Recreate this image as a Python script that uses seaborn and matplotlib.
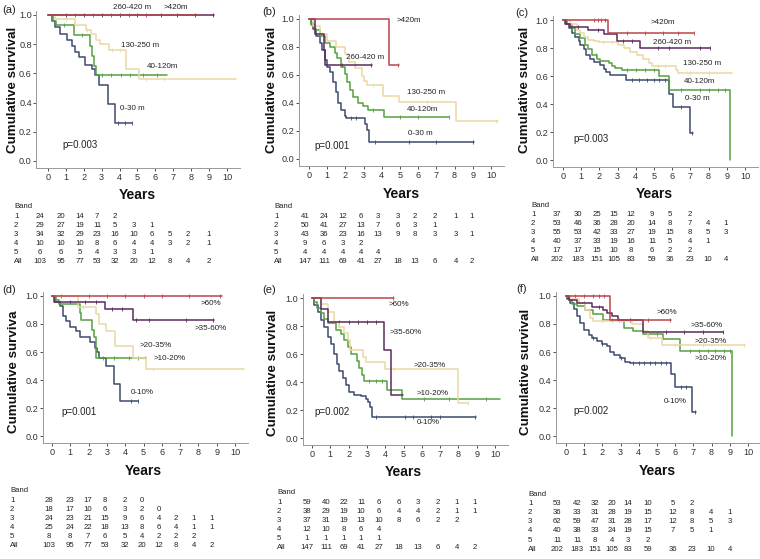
import matplotlib
matplotlib.use("Agg")
import matplotlib.pyplot as plt
import seaborn as sns
import numpy as np

sns.set_style("white")
plt.rcParams['font.family'] = ['Liberation Sans', 'DejaVu Sans']

# ---------------- colours per group (rank 1..5) ----------------
COLORS = ["#3d4a6e", "#55a040", "#ead9a6", "#5b2a5c", "#b8454a"]

# ---------------- panel (a): depth bands ----------------
a_g1_t = [0, 0.22, 0.41, 0.69, 1.06, 1.34, 1.53, 1.71, 2.08, 2.46, 2.6, 2.83, 3.33, 3.76, 4.69]
a_g1_s = [1, 0.96, 0.92, 0.87, 0.83, 0.79, 0.75, 0.71, 0.66, 0.63, 0.59, 0.52, 0.39, 0.26, 0.26]
a_g2_t = [0, 0.28, 0.47, 1.43, 2.35, 2.45, 2.55, 2.7, 6.65]
a_g2_s = [1, 0.96, 0.93, 0.86, 0.79, 0.72, 0.65, 0.59, 0.59]
a_g3_t = [0, 0.41, 1.53, 2.1, 2.4, 2.7, 2.9, 3.4, 4.37, 5.07, 10.5]
a_g3_s = [1, 0.97, 0.93, 0.90, 0.87, 0.83, 0.80, 0.76, 0.63, 0.56, 0.56]
a_g4_t = [0, 9.25]
a_g4_s = [1, 1]
a_g5_t = [0, 8.4]
a_g5_s = [1, 1]

# ---------------- panel (b) ----------------
b_g1_t = [0, 0.1, 0.22, 0.4, 0.59, 0.74, 0.86, 1.0, 1.14, 1.32, 1.47, 1.6, 1.78, 1.97, 2.06, 3.07, 3.16, 3.29, 9.04]
b_g1_s = [1, 0.97, 0.93, 0.88, 0.83, 0.78, 0.71, 0.66, 0.62, 0.55, 0.48, 0.40, 0.35, 0.31, 0.29, 0.25, 0.21, 0.12, 0.12]
b_g2_t = [0, 0.13, 0.31, 0.6, 0.86, 1.14, 1.42, 1.54, 1.78, 1.97, 2.1, 2.24, 2.43, 2.7, 2.98, 3.25, 4.12, 7.7]
b_g2_s = [1, 0.96, 0.92, 0.88, 0.83, 0.80, 0.76, 0.72, 0.66, 0.61, 0.55, 0.49, 0.44, 0.40, 0.38, 0.35, 0.30, 0.30]
b_g3_t = [0, 0.22, 0.59, 1.0, 1.5, 2.0, 2.2, 2.5, 2.9, 3.0, 3.2, 4.04, 4.96, 8.09, 10.37]
b_g3_s = [1, 0.95, 0.89, 0.84, 0.80, 0.75, 0.69, 0.65, 0.59, 0.56, 0.53, 0.45, 0.41, 0.27, 0.27]
b_g4_t = [0, 0.35, 0.81, 0.9, 3.44]
b_g4_s = [1, 0.89, 0.78, 0.67, 0.67]
b_g5_t = [0, 4.41, 4.96]
b_g5_s = [1, 0.67, 0.67]

# ---------------- panel (c) ----------------
c_g1_t = [0, 0.13, 0.31, 0.49, 0.68, 0.86, 0.95, 1.13, 1.28, 1.46, 1.68, 2.05, 2.23, 2.38, 2.6, 3.47, 5.83, 6.03, 6.98, 7.13]
c_g1_s = [1, 0.97, 0.94, 0.91, 0.88, 0.85, 0.82, 0.79, 0.75, 0.72, 0.70, 0.68, 0.65, 0.63, 0.61, 0.57, 0.47, 0.38, 0.19, 0.19]
c_g2_t = [0, 0.22, 0.49, 0.68, 0.95, 1.22, 1.4, 1.59, 1.86, 2.05, 2.5, 2.69, 2.87, 3.24, 5.3, 5.85, 9.18]
c_g2_s = [1, 0.97, 0.94, 0.90, 0.87, 0.82, 0.79, 0.75, 0.72, 0.71, 0.69, 0.67, 0.66, 0.64, 0.60, 0.50, 0.0]
c_g3_t = [0, 0.4, 0.77, 0.95, 1.13, 1.4, 1.68, 1.96, 3.0, 3.33, 3.69, 4.06, 4.42, 4.7, 4.88, 6.22, 6.3, 9.3]
c_g3_s = [1, 0.97, 0.93, 0.91, 0.88, 0.86, 0.85, 0.84, 0.82, 0.80, 0.77, 0.75, 0.72, 0.69, 0.67, 0.64, 0.62, 0.62]
c_g4_t = [0, 0.18, 0.4, 1.4, 2.23, 2.96, 4.24, 8.08]
c_g4_s = [1, 0.97, 0.95, 0.93, 0.90, 0.85, 0.80, 0.80]
c_g5_t = [0, 2.45, 7.22]
c_g5_s = [1, 0.91, 0.91]

# ---------------- panel (d): percentage bands ----------------
d_g1_t = [0, 0.15, 0.42, 0.6, 0.78, 1.0, 1.3, 1.51, 2.06, 2.34, 2.46, 2.57, 2.94, 3.38, 3.74, 4.71]
d_g1_s = [1, 0.96, 0.93, 0.86, 0.82, 0.78, 0.75, 0.71, 0.67, 0.63, 0.60, 0.56, 0.50, 0.37, 0.25, 0.25]
d_g2_t = [0, 0.2, 0.38, 1.51, 1.6, 2.2, 2.3, 2.43, 5.16]
d_g2_s = [1, 0.97, 0.94, 0.88, 0.83, 0.76, 0.71, 0.56, 0.56]
d_g3_t = [0, 1.4, 2.43, 2.57, 2.97, 3.43, 4.4, 5.16, 10.5]
d_g3_s = [1, 0.92, 0.87, 0.80, 0.75, 0.64, 0.56, 0.48, 0.48]
d_g4_t = [0, 0.11, 2.88, 4.4, 8.87]
d_g4_s = [1, 0.96, 0.91, 0.83, 0.83]
d_g5_t = [0, 9.27]
d_g5_s = [1, 1]

# ---------------- panel (e) ----------------
e_g1_t = [0, 0.13, 0.31, 0.49, 0.67, 0.85, 1.03, 1.21, 1.36, 1.49, 1.67, 1.85, 2.03, 2.3, 2.66, 2.93, 3.06, 3.17, 3.3, 8.97]
e_g1_s = [1, 0.95, 0.90, 0.84, 0.79, 0.72, 0.67, 0.60, 0.53, 0.48, 0.43, 0.38, 0.33, 0.31, 0.30, 0.28, 0.26, 0.22, 0.15, 0.15]
e_g2_t = [0, 0.13, 0.27, 0.49, 0.67, 0.89, 1.3, 1.58, 1.76, 1.94, 2.12, 2.45, 2.57, 2.75, 2.84, 4.11, 4.93, 10.27]
e_g2_s = [1, 0.97, 0.93, 0.89, 0.85, 0.82, 0.77, 0.74, 0.70, 0.65, 0.60, 0.55, 0.50, 0.45, 0.41, 0.34, 0.28, 0.28]
e_g3_t = [0, 0.49, 0.85, 1.21, 1.49, 1.76, 1.94, 2.08, 2.81, 2.93, 3.97, 8.0, 8.55]
e_g3_s = [1, 0.96, 0.90, 0.83, 0.79, 0.75, 0.70, 0.63, 0.58, 0.54, 0.49, 0.25, 0.25]
e_g4_t = [0, 0.49, 0.89, 3.93, 4.29, 4.96]
e_g4_s = [1, 0.92, 0.83, 0.63, 0.31, 0.31]
e_g5_t = [0, 4.47]
e_g5_s = [1, 1]

# ---------------- panel (f) ----------------
f_g1_t = [0, 0.05, 0.24, 0.42, 0.6, 0.78, 1.0, 1.24, 1.42, 1.7, 1.97, 2.24, 2.43, 2.61, 2.97, 3.25, 3.49, 5.75, 5.99, 6.95, 7.17]
f_g1_s = [1, 0.98, 0.95, 0.91, 0.86, 0.81, 0.76, 0.72, 0.70, 0.68, 0.66, 0.64, 0.60, 0.58, 0.56, 0.53, 0.52, 0.44, 0.35, 0.17, 0.17]
f_g2_t = [0, 0.15, 0.33, 0.6, 1.06, 1.51, 2.06, 3.19, 3.7, 4.25, 5.35, 6.26, 9.14]
f_g2_s = [1, 0.97, 0.94, 0.93, 0.90, 0.87, 0.83, 0.77, 0.75, 0.73, 0.69, 0.61, 0.0]
f_g3_t = [0, 0.24, 0.69, 1.06, 1.3, 1.51, 3.61, 4.25, 4.53, 5.26, 9.82]
f_g3_s = [1, 0.98, 0.95, 0.90, 0.84, 0.82, 0.80, 0.75, 0.70, 0.65, 0.65]
f_g4_t = [0, 0.15, 0.6, 1.42, 2.02, 2.24, 2.52, 2.88, 4.22, 8.63]
f_g4_s = [1, 0.97, 0.95, 0.92, 0.90, 0.88, 0.86, 0.83, 0.74, 0.74]
f_g5_t = [0, 2.43, 5.75]
f_g5_s = [1, 0.83, 0.83]

# ---------------- censor times (years) ----------------
a_cens = [[3.9, 4.3, 4.69], [0.9, 1.9, 3.0, 3.5, 4.1, 4.6, 5.3, 6.1], [1.0, 2.2, 3.6, 4.0, 5.5, 6.5],
          [1.0, 2.0, 3.0, 4.0, 5.0, 6.3, 7.2, 8.2, 9.2], [1.5, 2.5, 3.5, 4.5, 5.5]]
b_cens = [[2.3, 2.6, 3.6, 5.5, 7.0, 9.0], [3.5, 5.0, 6.0, 7.7], [3.5, 6.5, 10.3], [1.8, 2.5, 3.4], [4.9]]
c_cens = [[3.8, 4.2, 4.6, 5.0, 5.3, 5.6, 6.5, 7.1], [1.8, 3.5, 4.0, 4.5, 5.0, 6.5, 7.5, 8.0, 8.5, 8.9],
          [2.2, 2.7, 5.2, 5.6, 7.0, 8.0], [0.8, 1.9, 3.3, 3.8, 5.2, 5.8, 7.5, 8.05],
          [1.7, 1.9, 2.1, 2.3, 3.5, 4.5, 5.5, 6.3, 7.2]]
d_cens = [[4.3, 4.7], [2.8, 3.4, 4.2, 4.7, 5.1], [1.7, 5.5], [1.0, 1.8, 2.4, 3.3, 3.8, 4.6, 5.3, 7.3, 8.8],
          [0.5, 2.0, 3.0, 4.0, 5.0, 6.0, 7.5, 9.2]]
e_cens = [[3.5, 5.1, 5.5, 6.5, 7.0, 8.9], [3.1, 3.5, 3.8, 6.1, 7.5, 9.5], [4.5, 8.5],
          [1.5, 2.0, 2.5, 3.0, 3.5], [4.4]]
f_cens = [[1.5, 2.0, 3.0, 3.7, 4.0, 4.3, 4.6, 4.9, 5.2, 5.5, 6.3, 6.6, 7.1],
          [2.5, 2.9, 4.5, 5.0, 6.8, 7.3, 7.8, 8.2, 8.7, 9.0], [2.0, 3.0, 4.6, 6.0, 7.5, 9.8],
          [1.0, 1.8, 3.5, 5.5, 6.5, 7.5, 8.6], [0.5, 1.0, 1.5, 1.8, 2.1, 3.5, 4.5, 5.7]]

# ---------------- curve labels (text, x, y) ----------------
a_labels = [("260-420 m", 3.61, 1.05), (">420m", 6.46, 1.05), ("130-250 m", 4.08, 0.79),
            ("40-120m", 5.53, 0.645), ("0-30 m", 4.04, 0.36)]
b_labels = [(">420m", 4.82, 0.99), ("260-420 m", 2.06, 0.726), ("130-250 m", 5.37, 0.476),
            ("40-120m", 5.37, 0.35), ("0-30 m", 5.46, 0.18)]
c_labels = [(">420m", 4.84, 0.98), ("260-420 m", 4.94, 0.84), ("130-250 m", 6.58, 0.69),
            ("40-120m", 6.62, 0.56), ("0-30 m", 6.71, 0.436)]
d_labels = [(">60%", 8.12, 0.945), (">35-60%", 7.77, 0.77), (">20-35%", 4.8, 0.646),
            (">10-20%", 5.57, 0.55), ("0-10%", 4.31, 0.31)]
e_labels = [(">60%", 4.2, 0.95), (">35-60%", 4.26, 0.757), (">20-35%", 5.53, 0.519),
            (">10-20%", 5.71, 0.321), ("0-10%", 5.74, 0.11)]
f_labels = [(">60%", 4.98, 0.88), (">35-60%", 6.84, 0.786), (">20-35%", 7.08, 0.676),
            (">10-20%", 7.08, 0.552), ("0-10%", 5.38, 0.248)]

p_values = ["p=0.003", "p=0.001", "p=0.003", "p=0.001", "p=0.002", "p=0.002"]
p_pos = [(0.78, 0.107), (0.31, 0.095), (0.55, 0.148), (0.51, 0.172), (0.13, 0.186), (0.38, 0.179)]
panel_letters = ["(a)", "(b)", "(c)", "(d)", "(e)", "(f)"]
ylabels = ["Cumulative survival", "Cumulative survival", "Cumulative survival",
           "Cumulative surviva", "Cumulative survival", "Cumulative survival"]

# ---------------- numbers at risk ----------------
row_names = ["1", "2", "3", "4", "5", "All"]
a_risk = [[24, 20, 14, 7, 2], [29, 27, 19, 11, 5, 3, 1], [34, 32, 29, 23, 16, 10, 6, 5, 2, 1],
          [10, 10, 10, 8, 6, 4, 4, 3, 2, 1], [6, 6, 5, 4, 3, 3, 1], [103, 95, 77, 53, 32, 20, 12, 8, 4, 2]]
b_risk = [[41, 24, 12, 6, 3, 3, 2, 2, 1, 1], [50, 41, 27, 13, 7, 6, 3, 1], [43, 36, 23, 16, 13, 9, 8, 3, 3, 1],
          [9, 6, 3, 2], [4, 4, 4, 4, 4], [147, 111, 69, 41, 27, 18, 13, 6, 4, 2]]
c_risk = [[37, 30, 25, 15, 12, 9, 5, 2], [53, 46, 36, 28, 20, 14, 8, 7, 4, 1], [55, 53, 42, 33, 27, 19, 15, 8, 5, 3],
          [40, 37, 33, 19, 16, 11, 5, 4, 1], [17, 17, 15, 10, 8, 6, 2, 2], [202, 183, 151, 105, 83, 59, 36, 23, 10, 4]]
d_risk = [[28, 23, 17, 8, 2, 0], [18, 17, 10, 6, 3, 2, 0], [24, 23, 21, 15, 9, 6, 4, 2, 1, 1],
          [25, 24, 22, 18, 13, 8, 6, 4, 1, 1], [8, 8, 7, 6, 5, 4, 2, 2, 2], [103, 95, 77, 53, 32, 20, 12, 8, 4, 2]]
e_risk = [[59, 40, 22, 11, 6, 6, 3, 2, 1, 1], [38, 29, 19, 10, 6, 4, 4, 2, 1, 1], [37, 31, 19, 13, 10, 8, 6, 2, 2],
          [12, 10, 8, 6, 4], [1, 1, 1, 1, 1], [147, 111, 69, 41, 27, 18, 13, 6, 4, 2]]
f_risk = [[53, 42, 32, 20, 14, 10, 5, 2], [36, 33, 31, 28, 19, 15, 12, 8, 4, 1], [62, 59, 47, 31, 28, 17, 12, 8, 5, 3],
          [40, 38, 33, 24, 19, 15, 7, 5, 1], [11, 11, 8, 4, 3, 2], [202, 183, 151, 105, 83, 59, 36, 23, 10, 4]]

# ---------------- layout (pixels) ----------------
W, H = 760, 559
# tick0 x px, px per year, y px of 1.0, y px of 0.0, left xlim
geom = [(48, 17.9, 15, 161, -0.65), (309, 18.2, 19, 159, -0.55), (563, 18.2, 20, 160, -0.55),
        (52, 18.3, 296, 436, -0.5), (312, 18.3, 298, 438, -0.5), (566, 18.2, 296, 436, -0.55)]
letter_pos = [(2, 10), (262, 12), (515, 13), (2, 290), (262, 290), (516, 289)]
ylab_pos = [(13, 90), (272, 90), (525, 90), (14, 372), (273, 373), (526, 372)]
years_pos = [(137, 195), (401, 194), (654, 194), (143, 471), (403, 472), (657, 471)]
# table: label x, header y, row step, column centres
table_geom = [(14, 207, 9.1, [40, 61, 80, 97, 115, 134, 152, 170, 188, 209]),
              (274, 207, 9.1, [305, 324, 343, 361, 378, 398, 415, 435, 456, 472]),
              (531, 205, 9.1, [557, 578, 597, 614, 631, 652, 670, 690, 708, 726]),
              (10, 491, 9.1, [49, 70, 88, 105, 125, 142, 159, 176, 194, 212]),
              (277, 493, 9.1, [307, 326, 344, 361, 379, 399, 418, 438, 457, 475]),
              (528, 494, 9.2, [557, 577, 595, 612, 628, 648, 673, 692, 711, 730])]

curves = [
    [(a_g1_t, a_g1_s), (a_g2_t, a_g2_s), (a_g3_t, a_g3_s), (a_g4_t, a_g4_s), (a_g5_t, a_g5_s)],
    [(b_g1_t, b_g1_s), (b_g2_t, b_g2_s), (b_g3_t, b_g3_s), (b_g4_t, b_g4_s), (b_g5_t, b_g5_s)],
    [(c_g1_t, c_g1_s), (c_g2_t, c_g2_s), (c_g3_t, c_g3_s), (c_g4_t, c_g4_s), (c_g5_t, c_g5_s)],
    [(d_g1_t, d_g1_s), (d_g2_t, d_g2_s), (d_g3_t, d_g3_s), (d_g4_t, d_g4_s), (d_g5_t, d_g5_s)],
    [(e_g1_t, e_g1_s), (e_g2_t, e_g2_s), (e_g3_t, e_g3_s), (e_g4_t, e_g4_s), (e_g5_t, e_g5_s)],
    [(f_g1_t, f_g1_s), (f_g2_t, f_g2_s), (f_g3_t, f_g3_s), (f_g4_t, f_g4_s), (f_g5_t, f_g5_s)],
]
cens_all = [a_cens, b_cens, c_cens, d_cens, e_cens, f_cens]
labels_all = [a_labels, b_labels, c_labels, d_labels, e_labels, f_labels]
risk_all = [a_risk, b_risk, c_risk, d_risk, e_risk, f_risk]


def step_value(t, s, x):
    idx = np.searchsorted(np.asarray(t), x, side="right") - 1
    idx = min(max(idx, 0), len(s) - 1)
    return s[idx]


fig = plt.figure(figsize=(W / 100, H / 100), dpi=100)
XR = 10.7
YB, YT = -0.05, 1.03

for i in range(6):
    x0, ppy, y1, y0, xl = geom[i]
    ppu = y0 - y1
    lpx = x0 + xl * ppy
    rpx = x0 + XR * ppy
    tpx = y0 - YT * ppu
    bpx = y0 - YB * ppu
    ax = fig.add_axes([lpx / W, 1 - bpx / H, (rpx - lpx) / W, (bpx - tpx) / H])
    ax.set_facecolor("white")
    for k, (t, s) in enumerate(curves[i]):
        sns.lineplot(x=t, y=s, ax=ax, color=COLORS[k], linewidth=1.1,
                     drawstyle="steps-post", estimator=None, sort=False)
        ct = [c for c in cens_all[i][k] if c <= t[-1]]
        cy = [step_value(t, s, c) for c in ct]
        if ct:
            sns.scatterplot(x=ct, y=cy, ax=ax, marker="|", s=7, color=COLORS[k],
                            linewidth=0.6, legend=False)
    ax.set_xlim(xl, XR)
    ax.set_ylim(YB, YT)
    ax.set_xticks(range(0, 11))
    ax.set_yticks([0, 0.2, 0.4, 0.6, 0.8, 1.0])
    ax.set_yticklabels(["0.0", "0.2", "0.4", "0.6", "0.8", "1.0"])
    ax.tick_params(axis="both", which="both", labelsize=6.6, colors="#333333",
                   length=2.5, width=0.6, direction="out", pad=0.8, left=True, bottom=True)
    for sp in ["top", "right"]:
        ax.spines[sp].set_visible(False)
    for sp in ["left", "bottom"]:
        ax.spines[sp].set_color("#999999")
        ax.spines[sp].set_linewidth(0.7)
    ax.set_xlabel("")
    ax.set_ylabel("")
    for (txt, tx, ty) in labels_all[i]:
        ax.text(tx, ty, txt, fontsize=5.8, color="#222222", ha="left", va="center", clip_on=False)
    ax.text(p_pos[i][0], p_pos[i][1], p_values[i], fontsize=7, color="#222222", ha="left", va="center")

    # figure-level texts
    lx, ly = letter_pos[i]
    fig.text(lx / W, 1 - ly / H, panel_letters[i], fontsize=8, color="#222222", ha="left", va="center")
    yx, yy = ylab_pos[i]
    fig.text(yx / W, 1 - yy / H, ylabels[i], fontsize=9.6, fontweight="bold", rotation=90,
             ha="center", va="center", color="#111111")
    vx, vy = years_pos[i]
    fig.text(vx / W, 1 - vy / H, "Years", fontsize=10, fontweight="bold", ha="center", va="center",
             color="#111111")
    bx, by, step, cols = table_geom[i]
    fig.text(bx / W, 1 - by / H, "Band", fontsize=5.6, color="#222222", ha="left", va="center")
    for r, row in enumerate(risk_all[i]):
        yrow = by + (r + 1) * step
        fig.text(bx / W, 1 - yrow / H, row_names[r], fontsize=5.6, color="#222222", ha="left", va="center")
        for c, v in enumerate(row):
            fig.text(cols[c] / W, 1 - yrow / H, str(v), fontsize=5.6, color="#222222",
                     ha="center", va="center")

fig.savefig("out.png", dpi=100, facecolor="white")
